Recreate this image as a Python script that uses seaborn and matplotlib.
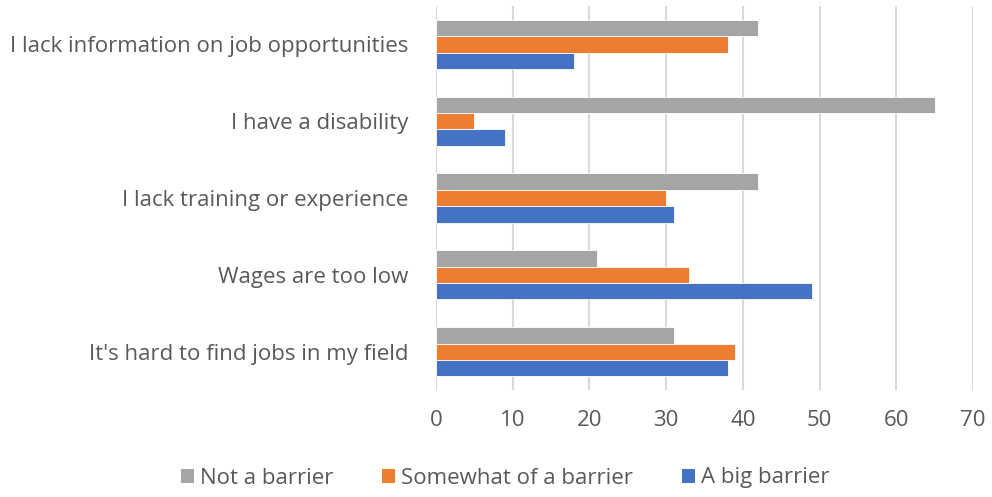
import matplotlib
matplotlib.use("Agg")
import matplotlib.pyplot as plt
import seaborn as sns
import pandas as pd
from matplotlib.patches import Patch

categories = [
    "I lack information on job opportunities",
    "I have a disability",
    "I lack training or experience",
    "Wages are too low",
    "It's hard to find jobs in my field",
]
series_names = ["Not a barrier", "Somewhat of a barrier", "A big barrier"]
not_a_barrier = [42, 65, 42, 21, 31]
somewhat_barrier = [38, 5, 30, 33, 39]
big_barrier = [18, 9, 31, 49, 38]
x_ticks = [0, 10, 20, 30, 40, 50, 60, 70]

colors = ["#A5A5A5", "#ED7D31", "#4472C4"]

rows = []
for name, vals in zip(series_names, [not_a_barrier, somewhat_barrier, big_barrier]):
    for cat, v in zip(categories, vals):
        rows.append({"category": cat, "series": name, "value": v})
df = pd.DataFrame(rows)

sns.set_theme(style="white")
plt.rcParams["font.family"] = ["Open Sans", "DejaVu Sans"]

fig = plt.figure(figsize=(9.92, 4.97), dpi=100)
ax = fig.add_axes([0.4395, 0.215, 0.5415, 0.773])

sns.barplot(
    data=df, y="category", x="value", hue="series",
    order=categories, hue_order=series_names,
    palette=colors, orient="h", width=0.64, ax=ax,
    saturation=1, legend=False, edgecolor="white", linewidth=0.6,
)

ax.set_xlim(0, 70)
ax.set_xticks(x_ticks)
ax.set_xticklabels([str(t) for t in x_ticks])
ax.xaxis.grid(True, color="#D9D9D9", linewidth=1.5)
ax.set_axisbelow(True)
for s in ax.spines.values():
    s.set_visible(False)
ax.set_xlabel("")
ax.set_ylabel("")
ax.tick_params(axis="both", length=0, labelsize=16, colors="#595959")
ax.tick_params(axis="y", pad=20)
ax.tick_params(axis="x", pad=14)

handles = [Patch(facecolor=c, edgecolor="none") for c in colors]
fig.legend(
    handles, series_names, loc="center", bbox_to_anchor=(505 / 992, 1 - 478 / 497),
    ncol=3, frameon=False, fontsize=16, handlelength=0.6, handleheight=0.6,
    handletextpad=0.25, columnspacing=2.2, labelcolor="#595959",
)

fig.savefig("out.png", dpi=100)
